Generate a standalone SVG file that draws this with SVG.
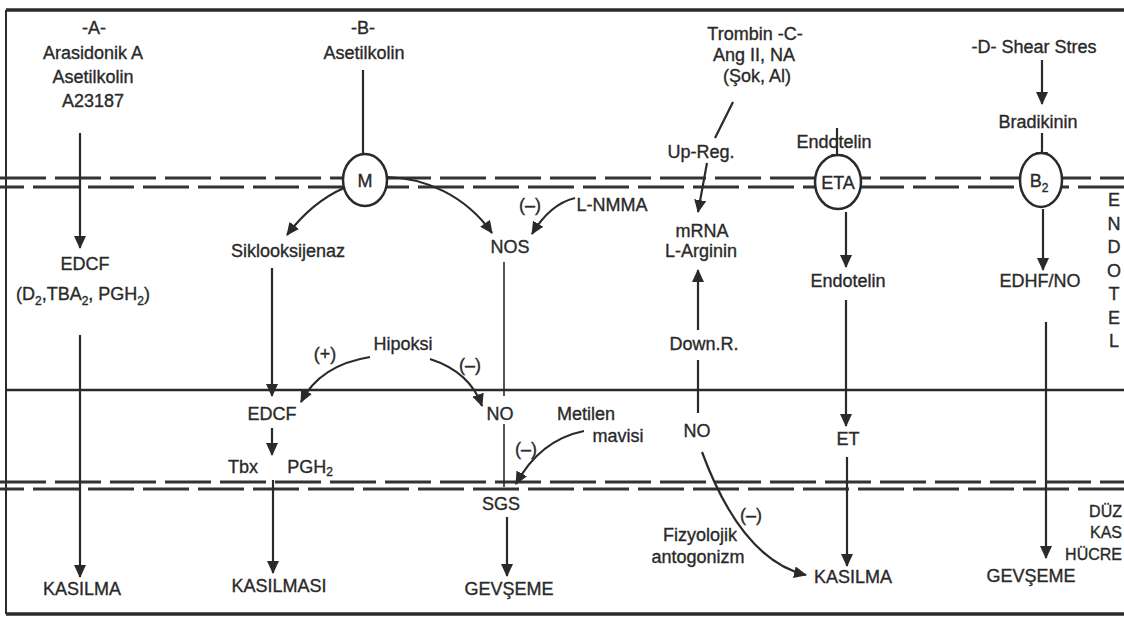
<svg xmlns="http://www.w3.org/2000/svg" width="1124" height="624" viewBox="0 0 1124 624">
<style>
text{font-family:"Liberation Sans","DejaVu Sans",sans-serif;font-size:18px;fill:#2a2a2a;stroke:#2a2a2a;stroke-width:0.35;text-anchor:middle}
.sub{font-size:12px}
.end{text-anchor:end;font-size:16px}
.frame{stroke:#2a2a2a;fill:none}
.mem{stroke:#333;stroke-width:3;stroke-dasharray:46 9;fill:none}
.c{stroke:#2a2a2a;stroke-width:2.2;fill:none}
.thin{stroke-width:1.6}
.rec{stroke:#2a2a2a;stroke-width:2.5;fill:#fff}
</style>
<defs>
<marker id="ah" markerUnits="userSpaceOnUse" markerWidth="13" markerHeight="12" refX="12" refY="6" orient="auto">
<path d="M0,0 L13,6 L0,12 Z" fill="#2a2a2a"/>
</marker>
</defs>
<rect width="1124" height="624" fill="#fff"/>
<g id="layers">
<line class="frame" x1="6" y1="10" x2="1124" y2="10" stroke-width="3.5"/>
<line class="frame" x1="6" y1="10" x2="6" y2="614" stroke-width="2"/>
<line class="frame" x1="6" y1="614" x2="1124" y2="614" stroke-width="3.5"/>
<line class="mem" x1="0" y1="178" x2="1124" y2="178"/>
<line class="mem" x1="0" y1="187" x2="1124" y2="187" stroke-dashoffset="22"/>
<line class="frame" x1="6" y1="390" x2="1124" y2="390" stroke-width="2.5"/>
<line class="mem" x1="0" y1="482" x2="1124" y2="482"/>
<line class="mem" x1="0" y1="489" x2="1124" y2="489" stroke-dashoffset="22"/>
</g>
<g id="connectors">
<line class="c" x1="80" y1="133" x2="80" y2="248" marker-end="url(#ah)"/>
<line class="c" x1="80" y1="335" x2="80" y2="577" marker-end="url(#ah)"/>
<line class="c" x1="363" y1="70" x2="363" y2="153"/>
<path class="c" d="M344,188 Q312,202 287,235" marker-end="url(#ah)"/>
<path class="c" d="M387,177 C425,178 465,195 492,233" marker-end="url(#ah)"/>
<path class="c" d="M575,198 Q550,204 532,234" marker-end="url(#ah)"/>
<line class="c" x1="272" y1="268" x2="272" y2="396" marker-end="url(#ah)"/>
<path class="c" d="M370,357 Q320,365 301,402" marker-end="url(#ah)"/>
<path class="c" d="M430,359 Q470,372 482,406" marker-end="url(#ah)"/>
<line class="c thin" x1="504" y1="262" x2="504" y2="396"/>
<line class="c thin" x1="504" y1="424" x2="504" y2="487"/>
<path class="c" d="M584,431 Q540,440 516,484" marker-end="url(#ah)"/>
<line class="c" x1="272" y1="428" x2="272" y2="455" marker-end="url(#ah)"/>
<line class="c" x1="273" y1="480" x2="273" y2="573" marker-end="url(#ah)"/>
<line class="c" x1="507" y1="517" x2="507" y2="576" marker-end="url(#ah)"/>
<line class="c" x1="733" y1="102" x2="715" y2="138"/>
<line class="c" x1="707" y1="163" x2="698" y2="212" marker-end="url(#ah)"/>
<line class="c" x1="698" y1="330" x2="698" y2="270" marker-end="url(#ah)"/>
<line class="c" x1="698" y1="360" x2="698" y2="413"/>
<path class="c" d="M702,452 Q742,560 806,575" marker-end="url(#ah)"/>
<line class="c" x1="837" y1="128" x2="837" y2="166" marker-end="url(#ah)"/>
<line class="c" x1="846" y1="212" x2="846" y2="267" marker-end="url(#ah)"/>
<line class="c" x1="846" y1="300" x2="846" y2="426" marker-end="url(#ah)"/>
<line class="c" x1="847" y1="457" x2="847" y2="566" marker-end="url(#ah)"/>
<line class="c" x1="1042" y1="60" x2="1042" y2="104" marker-end="url(#ah)"/>
<line class="c" x1="1042" y1="133" x2="1042" y2="164" marker-end="url(#ah)"/>
<line class="c" x1="1043" y1="209" x2="1043" y2="270" marker-end="url(#ah)"/>
<line class="c" x1="1046" y1="322" x2="1046" y2="558" marker-end="url(#ah)"/>
</g>
<g id="nodeA">
<text x="94" y="34">-A-</text>
<text x="93" y="59">Arasidonik A</text>
<text x="93" y="83">Asetilkolin</text>
<text x="93" y="107">A23187</text>
</g>
<g id="nodeEDCF1">
<text x="85" y="270">EDCF</text>
<text x="83" y="300">(D<tspan class="sub" dy="5">2</tspan><tspan dy="-5">,TBA</tspan><tspan class="sub" dy="5">2</tspan><tspan dy="-5">, PGH</tspan><tspan class="sub" dy="5">2</tspan><tspan dy="-5">)</tspan></text>
</g>
<g id="nodeKasilmaA"><text x="82" y="595">KASILMA</text></g>
<g id="nodeB">
<text x="363" y="34">-B-</text>
<text x="364" y="59">Asetilkolin</text>
</g>
<g id="nodeM">
<ellipse class="rec" cx="365" cy="180" rx="22" ry="26"/>
<text x="365" y="187">M</text>
</g>
<g id="nodeSik"><text x="288" y="257">Siklooksijenaz</text></g>
<g id="nodeLNMMA">
<text x="530" y="211">(–)</text>
<text x="612" y="211">L-NMMA</text>
</g>
<g id="nodeNOS"><text x="510" y="253">NOS</text></g>
<g id="nodeHipoksi">
<text x="325" y="360">(+)</text>
<text x="403" y="350">Hipoksi</text>
<text x="470" y="371">(–)</text>
</g>
<g id="nodeEDCF2"><text x="272" y="420">EDCF</text></g>
<g id="nodeTbx">
<text x="243" y="473">Tbx</text>
<text x="310" y="473">PGH<tspan class="sub" dy="3">2</tspan></text>
</g>
<g id="nodeKasilmasi"><text x="279" y="592">KASILMASI</text></g>
<g id="nodeNO1"><text x="500" y="420">NO</text></g>
<g id="nodeMetilen">
<text x="586" y="420">Metilen</text>
<text x="618" y="442">mavisi</text>
<text x="526" y="455">(–)</text>
</g>
<g id="nodeSGS"><text x="501" y="510">SGS</text></g>
<g id="nodeGevsemeB"><text x="509" y="595">GEVŞEME</text></g>
<g id="nodeC">
<text x="755" y="40">Trombin -C-</text>
<text x="754" y="61">Ang II, NA</text>
<text x="757" y="82">(Şok, Al)</text>
</g>
<g id="nodeUpReg"><text x="701" y="158">Up-Reg.</text></g>
<g id="nodeMRNA">
<text x="702" y="237">mRNA</text>
<text x="701" y="257">L-Arginin</text>
</g>
<g id="nodeDownR"><text x="704" y="350">Down.R.</text></g>
<g id="nodeNO2"><text x="697" y="437">NO</text></g>
<g id="nodeFiz">
<text x="751" y="521">(–)</text>
<text x="700" y="541">Fizyolojik</text>
<text x="698" y="563">antogonizm</text>
</g>
<g id="nodeKasilmaC"><text x="853" y="583">KASILMA</text></g>
<g id="nodeEndotelin1"><text x="834" y="148">Endotelin</text></g>
<g id="nodeETA">
<ellipse class="rec" cx="838" cy="182" rx="23" ry="27"/>
<text x="838" y="189">ETA</text>
</g>
<g id="nodeEndotelin2"><text x="848" y="287">Endotelin</text></g>
<g id="nodeET"><text x="848" y="445">ET</text></g>
<g id="nodeD"><text x="1034" y="53">-D- Shear Stres</text></g>
<g id="nodeBradikinin"><text x="1038" y="128">Bradikinin</text></g>
<g id="nodeB2">
<ellipse class="rec" cx="1041" cy="180" rx="21" ry="27"/>
<text x="1039" y="187">B<tspan class="sub" dy="5">2</tspan></text>
</g>
<g id="nodeEDHF"><text x="1040" y="287">EDHF/NO</text></g>
<g id="nodeGevsemeD"><text x="1031" y="582">GEVŞEME</text></g>
<g id="labelEndotel">
<text x="1114" y="206">E</text>
<text x="1114" y="230">N</text>
<text x="1114" y="253">D</text>
<text x="1114" y="277">O</text>
<text x="1114" y="300">T</text>
<text x="1114" y="324">E</text>
<text x="1114" y="347">L</text>
</g>
<g id="labelDuzKas">
<text class="end" x="1122" y="517">DÜZ</text>
<text class="end" x="1122" y="538">KAS</text>
<text class="end" x="1122" y="560">HÜCRE</text>
</g>
</svg>
